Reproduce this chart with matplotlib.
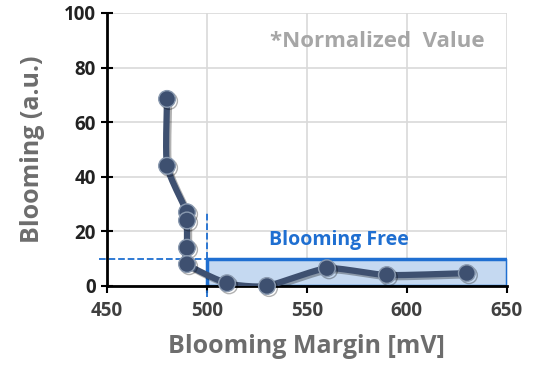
import numpy as np
import matplotlib.pyplot as plt
import matplotlib.patheffects as pe

# values
margin = [480, 480, 490, 490, 490, 490, 510, 530, 560, 590, 630]
blooming = [68.5, 44, 27, 24, 14, 8, 1, 0, 6.5, 4, 4.7]
free_x = [500, 650]
free_y = 10
xticks = [450, 500, 550, 600, 650]
yticks = [0, 20, 40, 60, 80, 100]


def smooth(x, y, n=20):
    # catmull-rom curve through the points, like excel's smoothed line
    x = np.asarray(x, float)
    y = np.asarray(y, float)
    px = np.concatenate([[x[0]], x, [x[-1]]])
    py = np.concatenate([[y[0]], y, [y[-1]]])
    xs, ys = [], []
    t = np.linspace(0, 1, n)
    for i in range(1, len(px) - 2):
        for p, out in ((px, xs), (py, ys)):
            p0, p1, p2, p3 = p[i - 1], p[i], p[i + 1], p[i + 2]
            m1 = (p2 - p0) / 2 * 0.6
            m2 = (p3 - p1) / 2 * 0.6
            h00 = 2 * t**3 - 3 * t**2 + 1
            h10 = t**3 - 2 * t**2 + t
            h01 = -2 * t**3 + 3 * t**2
            h11 = t**3 - t**2
            out.extend(h00 * p1 + h10 * m1 + h01 * p2 + h11 * m2)
    return xs, ys


plt.rcParams['font.family'] = ['Open Sans', 'DejaVu Sans']
plt.rcParams['font.weight'] = 'bold'

fig = plt.figure(figsize=(5.38, 3.69), dpi=100)
ax = fig.add_axes([0.199, 0.225, 0.743, 0.74])

ax.set_xlim(450, 650)
ax.set_ylim(0, 100)
ax.set_xticks(xticks)
ax.set_yticks(yticks)
ax.grid(color='#d9d9d9', lw=1.2, zorder=0)
ax.set_axisbelow(True)

# blooming free box
ax.fill_between(free_x, 0, free_y, color='#c5d9f1', zorder=1)
ax.plot([free_x[0], free_x[1], free_x[1], free_x[0], free_x[0]],
        [0, 0, free_y, free_y, 0], color='#1f6fd1', lw=2.5, zorder=2)
ax.plot([446, free_x[0]], [free_y, free_y], ls='--', color='#1f6fd1', lw=1.3,
        clip_on=False, zorder=2)
ax.plot([free_x[0], free_x[0]], [-4, 27], ls='--', color='#1f6fd1', lw=1.3,
        clip_on=False, zorder=2)

sx, sy = smooth(margin, blooming)
shadow = [pe.SimpleLineShadow(offset=(1.5, -1.5), alpha=0.3), pe.Normal()]
ax.plot(sx, sy, color='#3e5070', lw=4.5, zorder=3, path_effects=shadow,
        solid_capstyle='round')
ax.plot(margin, blooming, 'o', ms=12, color='#3e5070', mec='#8a9ab0', mew=1,
        zorder=4, clip_on=False, path_effects=shadow)

ax.text(566, 16.8, 'Blooming Free', color='#1f6fd1', fontsize=14,
        fontweight='bold', ha='center', va='center')
ax.text(585, 89.5, '*Normalized  Value', color='#a6a6a6', fontsize=16,
        fontweight='bold', ha='center', va='center')

for s in ['top', 'right']:
    ax.spines[s].set_visible(False)
for s in ['left', 'bottom']:
    ax.spines[s].set_linewidth(2)
    ax.spines[s].set_color('black')
ax.tick_params(axis='y', direction='inout', length=8, width=1.5,
               labelsize=13.5, labelcolor='#222222', pad=4)
ax.tick_params(axis='x', direction='out', length=5, width=1.5,
               labelsize=13.5, labelcolor='#404040', pad=6)
for lab in ax.get_xticklabels() + ax.get_yticklabels():
    lab.set_fontweight('bold')

ax.set_xlabel('Blooming Margin [mV]', fontsize=18, fontweight='bold',
              color='#6d6d6d', labelpad=9)
ax.set_ylabel('Blooming (a.u.)', fontsize=18, fontweight='bold',
              color='#6d6d6d', labelpad=14)

fig.savefig('out.png', dpi=100)
